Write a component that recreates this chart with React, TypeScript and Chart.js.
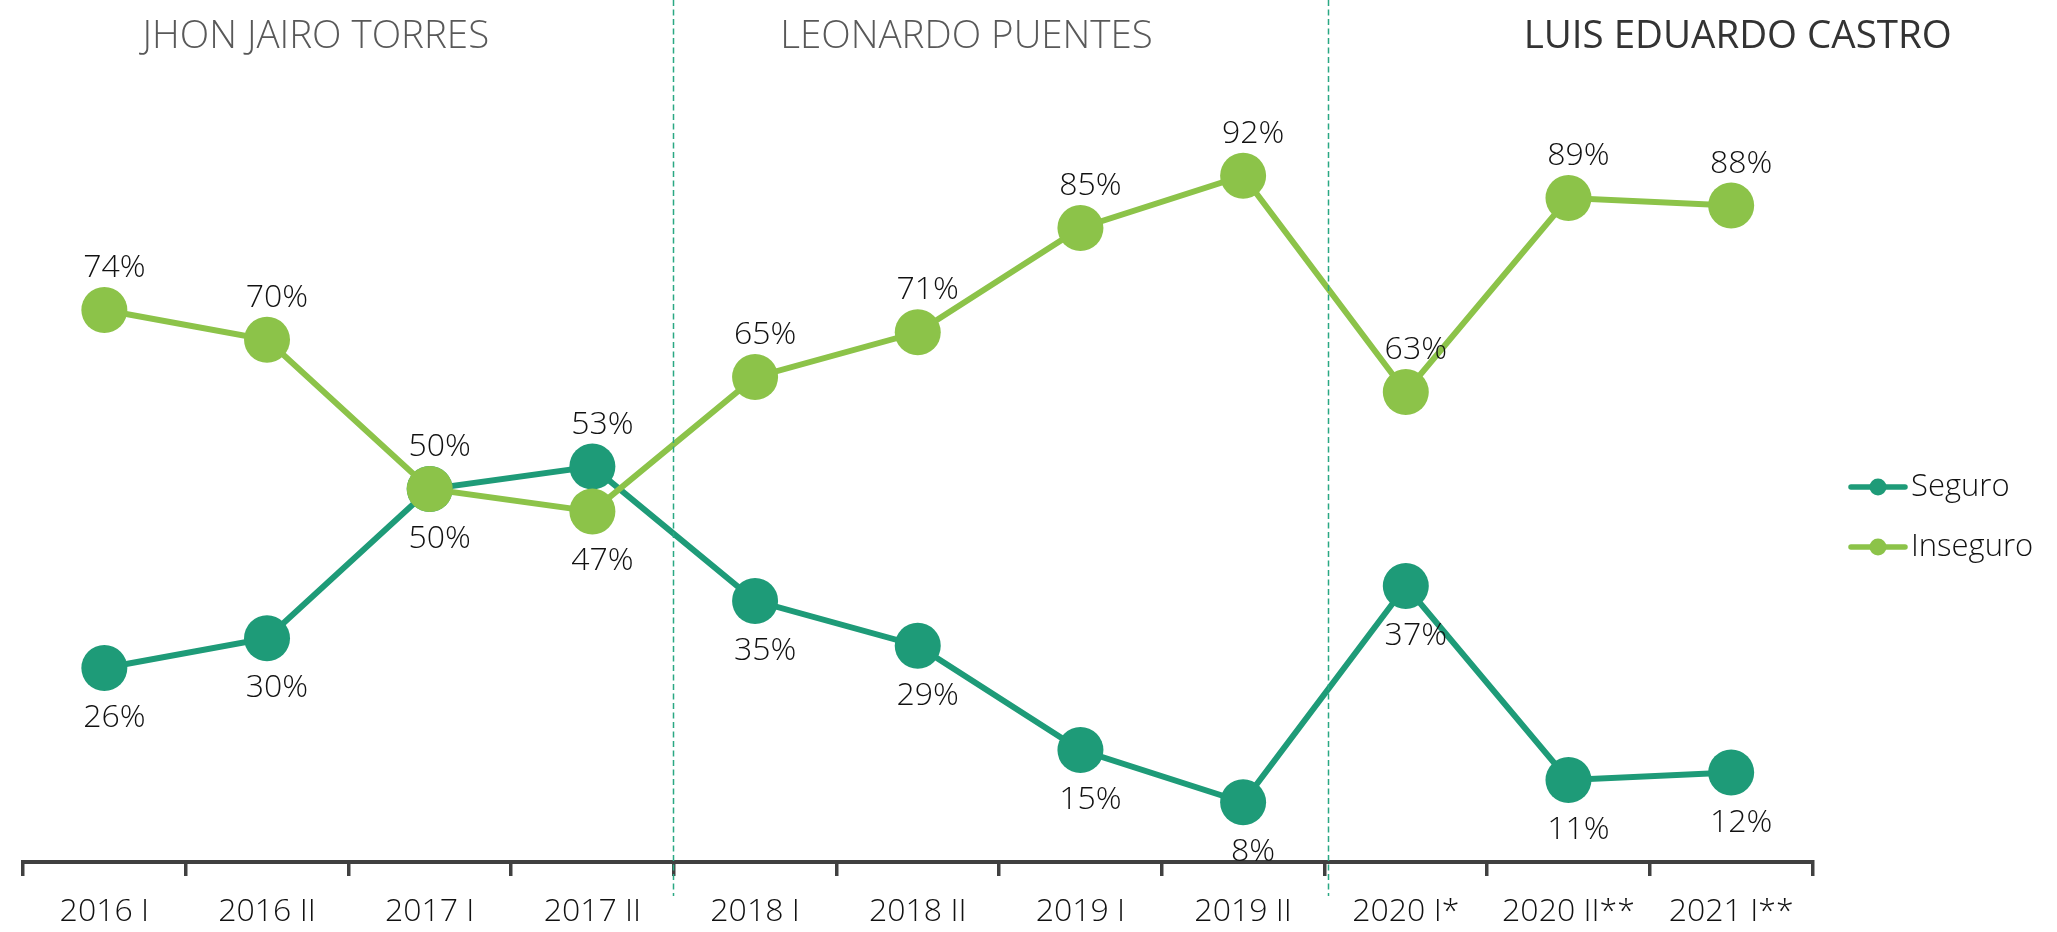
import React, { useEffect, useRef } from 'react';
import { Chart, registerables } from 'chart.js';

Chart.register(...registerables);

const categories = ['2016 I', '2016 II', '2017 I', '2017 II', '2018 I', '2018 II', '2019 I', '2019 II', '2020 I*', '2020 II**', '2021 I**'];
const seguro = [26, 30, 50, 53, 35, 29, 15, 8, 37, 11, 12];
const inseguro = [74, 70, 50, 47, 65, 71, 85, 92, 63, 89, 88];
const periodNames = ['JHON JAIRO TORRES', 'LEONARDO PUENTES', 'LUIS EDUARDO CASTRO'];
const periodCenters = [1.3, 5.3, 10.04];
const periodBoundaries = [3.495, 7.523];

const SEGURO_COLOR = '#1e9b78';
const INSEGURO_COLOR = '#8cc349';
const FONT = '"Open Sans", "Noto Sans", sans-serif';

const overlayPlugin = {
  id: 'overlay',
  afterDatasetsDraw(chart: any) {
    const ctx = chart.ctx;
    const x = chart.scales.x;
    const y = chart.scales.y;
    ctx.save();
    // dividers
    ctx.strokeStyle = '#2aa883';
    ctx.lineWidth = 1.5;
    ctx.setLineDash([6, 3.5]);
    periodBoundaries.forEach((b) => {
      const px = Math.round(x.getPixelForValue(b)) + 0.5;
      ctx.beginPath();
      ctx.moveTo(px, 0);
      ctx.lineTo(px, 896);
      ctx.stroke();
    });
    ctx.setLineDash([]);
    // period titles
    ctx.textAlign = 'center';
    ctx.textBaseline = 'middle';
    periodNames.forEach((name, i) => {
      const last = i === periodNames.length - 1;
      ctx.font = `${last ? 400 : 300} 38.5px ${FONT}`;
      ctx.fillStyle = last ? '#333333' : '#595959';
      ctx.fillText(name, x.getPixelForValue(periodCenters[i]), 37);
    });
    // data labels
    ctx.font = `300 32px ${FONT}`;
    ctx.fillStyle = '#111111';
    chart.data.datasets.forEach((ds: any, di: number) => {
      const other = chart.data.datasets[1 - di];
      ds.data.forEach((v: number, i: number) => {
        const o = other.data[i];
        const above = ds.label === 'Inseguro' ? v >= o : v > o;
        const px = x.getPixelForValue(i) + 10;
        const py = y.getPixelForValue(v);
        ctx.fillText(`${v}%`, px, above ? py - 42 : py + 50);
      });
    });
    // legend
    const legendItems = [chart.data.datasets[0], chart.data.datasets[1]];
    legendItems.forEach((ds: any, i: number) => {
      const ly = 487 + i * 60;
      ctx.strokeStyle = ds.borderColor;
      ctx.lineWidth = 5.5;
      ctx.lineCap = 'round';
      ctx.beginPath();
      ctx.moveTo(1851, ly);
      ctx.lineTo(1905, ly);
      ctx.stroke();
      ctx.fillStyle = ds.borderColor;
      ctx.beginPath();
      ctx.arc(1878, ly, 8.5, 0, Math.PI * 2);
      ctx.fill();
      ctx.fillStyle = '#111111';
      ctx.textAlign = 'left';
      ctx.font = `300 31px ${FONT}`;
      ctx.fillText(ds.label, 1911, ly);
    });
    ctx.restore();
  },
};

export default function App() {
  const ref = useRef<HTMLCanvasElement | null>(null);
  useEffect(() => {
    document.body.style.margin = '0';
    const canvas = ref.current;
    if (!canvas) return;
    const chart = new Chart(canvas, {
      type: 'line',
      data: {
        labels: categories,
        datasets: [
          {
            label: 'Seguro',
            data: seguro,
            borderColor: SEGURO_COLOR,
            backgroundColor: SEGURO_COLOR,
            pointBackgroundColor: SEGURO_COLOR,
            pointBorderWidth: 0,
            pointRadius: 23,
            borderWidth: 6,
            tension: 0,
            order: 1,
            clip: false as any,
          },
          {
            label: 'Inseguro',
            data: inseguro,
            borderColor: INSEGURO_COLOR,
            backgroundColor: INSEGURO_COLOR,
            pointBackgroundColor: INSEGURO_COLOR,
            pointBorderWidth: 0,
            pointRadius: 23,
            borderWidth: 6,
            tension: 0,
            order: 0,
            clip: false as any,
          },
        ],
      },
      options: {
        animation: false,
        responsive: false,
        devicePixelRatio: 1,
        layout: { padding: { left: 17.5, right: 244.5, top: 116, bottom: 0 } },
        plugins: {
          legend: { display: false },
          tooltip: { enabled: false },
        },
        scales: {
          x: {
            type: 'category',
            offset: true,
            afterFit: (scale: any) => {
              scale.height = 70;
            },
            border: { display: true, color: '#404040', width: 4 },
            grid: {
              display: true,
              offset: true,
              drawOnChartArea: false,
              drawTicks: true,
              tickLength: 14,
              color: '#404040',
              lineWidth: 3.5,
            },
            ticks: {
              padding: 17,
              color: '#111111',
              font: { family: FONT, size: 32, weight: '300' as any },
              maxRotation: 0,
              autoSkip: false,
            },
          },
          y: {
            display: false,
            min: 0,
            max: 100,
          },
        },
      },
      plugins: [overlayPlugin],
    });
    return () => chart.destroy();
  }, []);
  return (
    <div style={{ width: 2057, height: 932, background: '#ffffff' }}>
      <canvas ref={ref} width={2057} height={932} style={{ display: 'block' }} />
    </div>
  );
}
